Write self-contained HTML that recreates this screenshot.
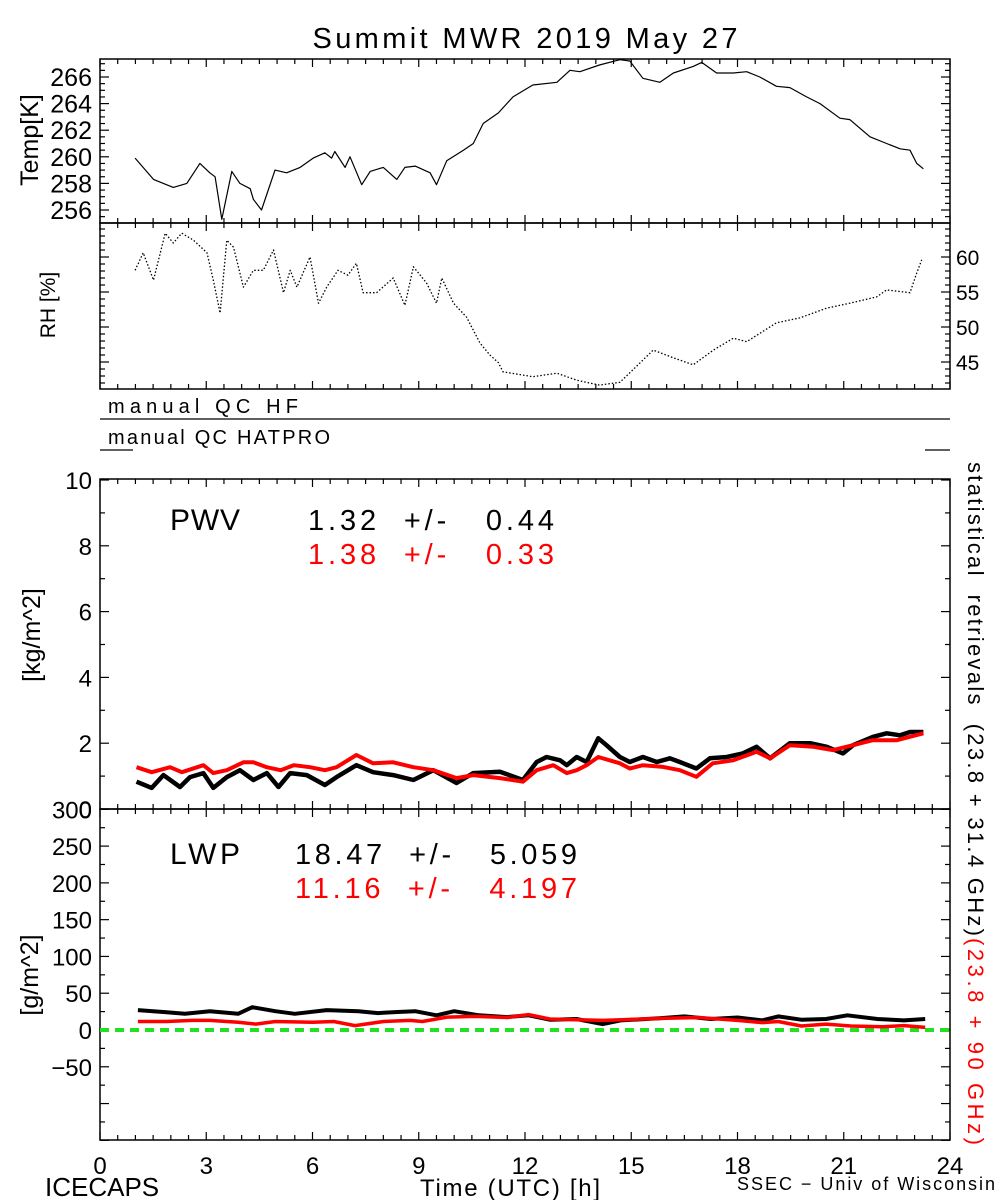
<!DOCTYPE html>
<html><head><meta charset="utf-8"><style>
body{margin:0;background:#fff;}
svg{display:block;font-family:"Liberation Sans",sans-serif;}
</style></head><body>
<svg id="c" width="1000" height="1200" viewBox="0 0 1000 1200"></svg>
<script>
const hours = [0,3,6,9,12,15,18,21,24];
const tempTicks = [256,258,260,262,264,266];
const rhTicks = [45,50,55,60];
const pwvTicks = [0,2,4,6,8,10];
const lwpTicks = [-50,0,50,100,150,200,250,300];
const tempH = [0.99,1.51,2.07,2.45,2.82,3.1,3.25,3.44,3.72,3.95,4.24,4.33,4.56,4.94,5.27,5.65,6.02,6.35,6.54,6.63,6.92,7.06,7.39,7.63,8.0,8.38,8.61,8.9,9.32,9.5,9.79,10.26,10.54,10.82,11.25,11.66,12.22,12.9,13.27,13.55,14.1,14.68,14.96,15.33,15.81,16.19,16.75,16.99,17.41,17.88,18.26,18.63,19.1,19.48,19.95,20.33,20.89,21.17,21.74,22.21,22.59,22.87,23.06,23.25];
const tempV = [259.9,258.3,257.7,258.0,259.5,258.8,258.5,255.3,258.9,258.0,257.6,256.8,256.0,259.0,258.8,259.2,259.9,260.3,259.9,260.4,259.2,260.0,257.9,258.9,259.2,258.3,259.2,259.3,258.8,257.9,259.7,260.5,261.0,262.5,263.3,264.5,265.4,265.6,266.5,266.4,266.9,267.3,267.2,265.9,265.6,266.3,266.8,267.1,266.3,266.3,266.4,266.0,265.3,265.2,264.5,264.0,262.9,262.8,261.5,261.0,260.6,260.5,259.5,259.1];
const rhH = [0.99,1.22,1.51,1.84,2.07,2.31,2.64,3.02,3.2,3.39,3.58,3.77,4.05,4.33,4.61,4.9,5.18,5.37,5.56,5.93,6.17,6.4,6.72,7.0,7.24,7.43,7.81,8.28,8.61,8.85,9.22,9.5,9.65,9.98,10.35,10.73,11.01,11.25,11.38,12.22,12.9,13.46,14.1,14.68,15.05,15.62,16.19,16.75,17.32,17.88,18.26,19.1,19.76,20.52,21.17,21.93,22.21,22.87,23.06,23.2];
const rhV = [58.1,60.6,56.7,63.4,62,63.4,62.4,60.6,56.7,52,62.4,61.4,55.7,58.1,58.1,61,54.9,58.1,55.7,60,53.4,55.7,58.1,57.4,59.1,54.9,54.9,57,53.1,58.6,56.3,53.4,57,53.4,51.4,47.7,46,44.9,43.6,42.9,43.4,42.4,41.7,42.1,43.9,46.7,45.6,44.6,46.7,48.4,47.9,50.6,51.3,52.7,53.4,54.3,55.3,54.9,57.7,59.6];
const pwvBlackH = [1.03,1.46,1.79,2.26,2.54,2.92,3.2,3.58,3.95,4.33,4.71,5.04,5.37,5.84,6.35,6.68,7.24,7.71,8.28,8.85,9.41,10.07,10.54,11.29,11.94,12.33,12.61,12.99,13.18,13.46,13.74,14.07,14.3,14.68,14.96,15.33,15.72,16.09,16.37,16.84,17.22,17.7,18.15,18.54,18.92,19.48,20.05,20.52,20.98,21.26,21.82,22.21,22.59,22.87,23.25];
const pwvBlackV = [0.83,0.64,1.03,0.67,0.97,1.09,0.64,0.97,1.18,0.88,1.09,0.67,1.09,1.03,0.73,0.97,1.33,1.12,1.03,0.88,1.18,0.79,1.09,1.13,0.88,1.43,1.58,1.48,1.33,1.58,1.43,2.15,1.94,1.58,1.43,1.58,1.43,1.54,1.43,1.23,1.54,1.58,1.69,1.89,1.54,2.0,2.0,1.89,1.69,1.94,2.19,2.3,2.24,2.34,2.34];
const pwvRedH = [1.03,1.46,1.98,2.31,2.92,3.2,3.58,4.05,4.33,4.71,5.1,5.47,5.93,6.35,6.68,7.24,7.71,8.28,8.85,9.41,10.07,10.54,11.29,11.94,12.33,12.8,13.18,13.46,13.74,14.07,14.68,14.96,15.33,15.9,16.37,16.84,17.3,17.88,18.54,18.92,19.48,20.14,20.7,21.26,21.82,22.5,23.25];
const pwvRedV = [1.27,1.12,1.27,1.12,1.33,1.09,1.18,1.42,1.42,1.27,1.18,1.33,1.27,1.18,1.27,1.64,1.39,1.42,1.27,1.18,0.94,1.03,0.94,0.83,1.18,1.33,1.09,1.18,1.33,1.58,1.39,1.23,1.33,1.28,1.18,0.98,1.39,1.48,1.74,1.54,1.94,1.89,1.79,1.94,2.09,2.09,2.3];
const lwpBlackH = [1.07,1.88,2.4,3.1,3.9,4.3,4.95,5.5,6.4,7.3,7.85,8.4,8.9,9.5,10.0,10.7,11.5,12.1,12.7,13.45,14.2,14.7,15.8,16.5,17.25,18.0,18.7,19.15,19.8,20.5,21.1,21.95,22.7,23.3];
const lwpBlackV = [27,24,22,25.5,22,31,25.5,22,27,25.5,23,24.5,25.5,20,25.5,20,17.5,20,14,15,8,13,16,18.5,15,17,13,18.5,14,15,20,15,13,15];
const lwpRedH = [1.07,1.88,2.6,3.1,3.9,4.4,4.95,6.0,6.6,7.2,8.0,8.75,9.1,9.8,10.6,11.5,12.1,12.7,13.45,14.2,15.3,16.0,16.9,18.0,18.7,19.15,19.8,20.5,21.2,22.1,22.7,23.3];
const lwpRedV = [11.5,11.5,13,13,10.5,8,11.5,10.5,11.5,6,11.5,13,11.5,17.5,18.5,17,21,15,14,13,15,16,17,13,10,11.5,5.5,8,5.5,4.5,6,3.5];

const NS='http://www.w3.org/2000/svg';
const svg=document.getElementById('c');
const X0=100,X1=950;
const xs=h=>X0+(X1-X0)*h/24;
const yT=v=>210-(v-256)*13.3;
const yR=v=>257-(v-60)*7;
const yP=v=>809-v*32.9;
const yL=v=>1030-v*0.7356;
function el(tag,attrs,text){const e=document.createElementNS(NS,tag);for(const k in attrs)e.setAttribute(k,attrs[k]);if(text!==undefined)e.textContent=text;svg.appendChild(e);return e;}
function line(x1,y1,x2,y2,w,c){return el('line',{x1,y1,x2,y2,stroke:c||'#000','stroke-width':w||1.3});}
function txt(x,y,s,size,anchor,color){return el('text',{x,y,'font-size':size,'text-anchor':anchor||'start',fill:color||'#000'},s);}

function frame(top,bot,name){const r=el('rect',{x:X0,y:top,width:X1-X0,height:bot-top,fill:'none',stroke:'#000','stroke-width':1.5});}
frame(59,223,'temp-panel');frame(223,389,'rh-panel');frame(479,809,'pwv-panel');frame(809,1140,'lwp-panel');
function xticks(y,dir){for(let h=0;h<=24;h+=0.5){const big=(h%3===0);line(xs(h),y,xs(h),y+dir*(big?8:5),1.2);}}
xticks(59,1);xticks(223,-1);xticks(223,1);xticks(389,-1);xticks(479,1);xticks(809,-1);xticks(809,1);xticks(1140,-1);
function yticks(fn,from,to,step,major){for(let v=from;v<=to+1e-9;v+=step){const y=fn(v);const big=Math.abs(v/major-Math.round(v/major))<1e-6;const L=big?9:5;line(X0,y,X0+L,y,1.2);line(X1,y,X1-L,y,1.2);}}
yticks(yT,255.5,267,0.5,2);yticks(yR,42,64,1,5);yticks(yP,0,10,1,2);yticks(yL,-150,300,25,50);
tempTicks.forEach(v=>{const t=txt(92,yT(v)+9,String(v),25,'end');});
rhTicks.forEach(v=>{const t=txt(956,yR(v)+8,String(v),21,'start');});
pwvTicks.forEach(v=>{const t=txt(92,yP(v)+9,String(v),24,'end');});
lwpTicks.forEach(v=>{const t=txt(92,yL(v)+9,String(v).replace('-','\u2212'),24,'end');});
hours.forEach(h=>{const t=txt(xs(h),1174,String(h),24,'middle');});

function path(H,V,fx,fy,color,w,name,dash){let d='';H.forEach((h,i)=>{d+=(i?'L':'M')+fx(h).toFixed(1)+','+fy(V[i]).toFixed(1);});const a={d,fill:'none',stroke:color,'stroke-width':w,'stroke-linejoin':'round'};if(dash)a['stroke-dasharray']=dash;const p=el('path',a);return p;}
path(tempH,tempV,xs,yT,'#000',1.2,'temp-line');
path(rhH,rhV,xs,yR,'#000',1.3,'rh-line','1.5 2');
const g=line(X0,yL(0),X1,yL(0),4,'#22e022');g.setAttribute('stroke-dasharray','9 6');


path(pwvBlackH,pwvBlackV,xs,yP,'#000',4.5,'pwv-black-series');
path(pwvRedH,pwvRedV,xs,yP,'#ff0000',4,'pwv-red-series');
path(lwpBlackH,lwpBlackV,xs,yL,'#000',4,'lwp-black-series');
path(lwpRedH,lwpRedV,xs,yL,'#ff0000',3.5,'lwp-red-series');
line(X0,419,X1,419,1.3);line(X0,450,133,450,1.3);line(925,450,X1,450,1.3);
</script>
<svg width="1000" height="1200" style="position:absolute;left:0;top:0;font-family:'Liberation Sans',sans-serif">
<text x="525" y="48" font-size="29" text-anchor="middle" textLength="425">Summit MWR 2019 May 27</text>
<text transform="translate(38,140) rotate(-90)" font-size="25" text-anchor="middle">Temp[K]</text>
<text transform="translate(55,305) rotate(-90)" font-size="21" text-anchor="middle">RH [%]</text>
<text x="108" y="413" font-size="20" textLength="190">manual QC HF</text>
<text x="108" y="444" font-size="20" textLength="222">manual QC HATPRO</text>
<text transform="translate(40,635) rotate(-90)" font-size="25" text-anchor="middle">[kg/m^2]</text>
<text transform="translate(38,975) rotate(-90)" font-size="25" text-anchor="middle">[g/m^2]</text>
<text x="170" y="530" font-size="30" textLength="70">PWV</text>
<text x="308" y="530" font-size="29" textLength="246" xml:space="preserve">1.32  +/-   0.44</text>
<text x="308" y="564" font-size="29" textLength="246" xml:space="preserve" fill="#ff0000">1.38  +/-   0.33</text>
<text x="170" y="864" font-size="30" textLength="70">LWP</text>
<text x="295" y="864" font-size="29" textLength="282" xml:space="preserve">18.47  +/-   5.059</text>
<text x="295" y="898" font-size="29" textLength="282" xml:space="preserve" fill="#ff0000">11.16  +/-   4.197</text>
<text transform="translate(968,462) rotate(90)" font-size="22" textLength="474" xml:space="preserve">statistical  retrievals  (23.8 + 31.4 GHz)</text>
<text transform="translate(968,938) rotate(90)" font-size="22" textLength="207" fill="#ff0000" xml:space="preserve">(23.8 + 90 GHz)</text>
<text x="45" y="1196" font-size="26">ICECAPS</text>
<text x="510" y="1196" font-size="24" text-anchor="middle" textLength="180">Time (UTC) [h]</text>
<text x="995" y="1190" font-size="18" text-anchor="end" textLength="258">SSEC − Univ of Wisconsin</text>
</svg>
</body></html>
